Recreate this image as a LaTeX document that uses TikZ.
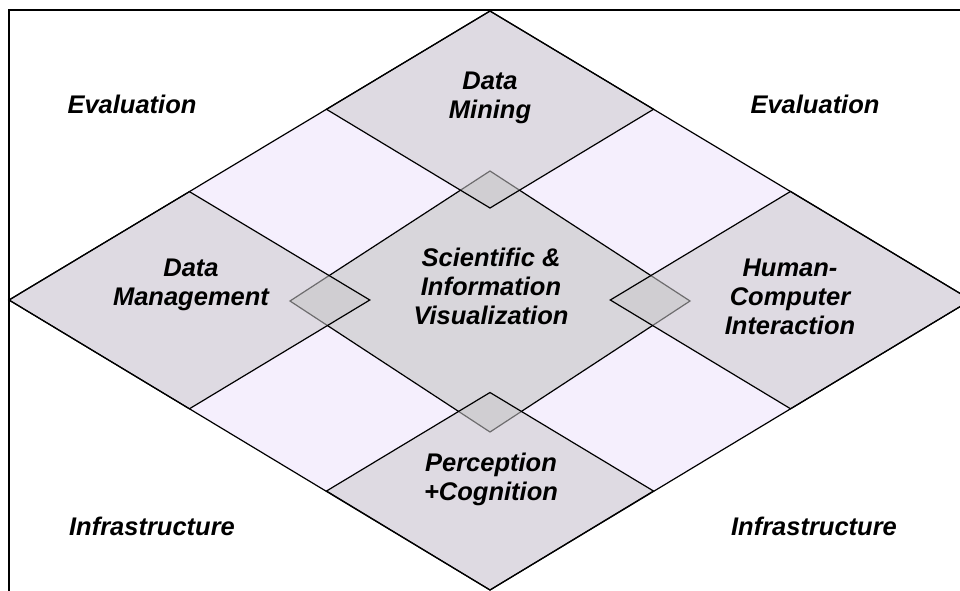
\documentclass[tikz,border=0pt]{standalone}
\usepackage{fontspec}
\setmainfont{Liberation Sans}

\definecolor{cellpurple}{RGB}{245,239,253}
\definecolor{centregray}{RGB}{216,214,219}
\definecolor{cornergray}{RGB}{203,201,204}

\tikzstyle{field}=[fill=centregray,draw=black,line width=1.2pt]
\tikzstyle{corner field}=[fill=cornergray,fill opacity=0.54,draw=black,line width=1.2pt]
\tikzstyle{outline}=[draw,line width=1.2pt]
\tikzstyle{topic}=[inner sep=0pt,align=center,font=\fontsize{25.5}{29}\selectfont\bfseries\itshape]

\begin{document}
\begin{tikzpicture}[x=1pt,y=-1pt]
     \useasboundingbox (0,0) rectangle (960,590);
     \clip (0,0) rectangle (960,590);
     % The big diamond and its corners
     \coordinate (L) at (9,300);
     \coordinate (T) at (490,11);
     \coordinate (R) at (971,300);
     \coordinate (B) at (490,590);
     \fill[cellpurple] (L) -- (T) -- (R) -- (B) -- cycle;

     % First the centre field, then the four corner fields over it
     \path[field] (290,301) -- (490,171) -- (690,301) -- (490,432) -- cycle;
     \foreach \l/\t/\r/\b in {
       {(9,300)/(189.4,191.6)/(369.8,300)/(189.4,408.8)},
       {(326.5,109.3)/(490,11)/(653.5,109.3)/(490,208)},
       {(610.3,300)/(790.6,191.4)/(971,300)/(790.6,408.8)},
       {(326.5,491)/(490,392.5)/(653.5,491)/(490,590)}}
     \path[corner field] \l -- \t -- \r -- \b -- cycle;
     \path[outline] (L) -- (T) -- (R) -- (B) -- cycle;

     % Frame
     \draw[line width=1.3pt] (9,600) -- (9,10) -- (970,10);

     % Labels
     \foreach \pos/\name/\txt in {{(132,104)/evalleft/Evaluation},
       {(815,104)/evalright/Evaluation},
       {(152,526)/infraleft/Infrastructure},
       {(814,526)/infraright/Infrastructure},
       {(490,97.5)/mining/{Data\\Mining}},
       {(191,284.5)/management/{Data\\Management}},
       {(491,286.5)/vis/{Scientific \&\\Information\\Visualization}},
       {(790,296.5)/hci/{Human-\\Computer\\Interaction}},
       {(491,479)/perception/{Perception\\+Cognition}}}
     \node[topic] (\name) at \pos {\txt};
 \end{tikzpicture}
\end{document}
